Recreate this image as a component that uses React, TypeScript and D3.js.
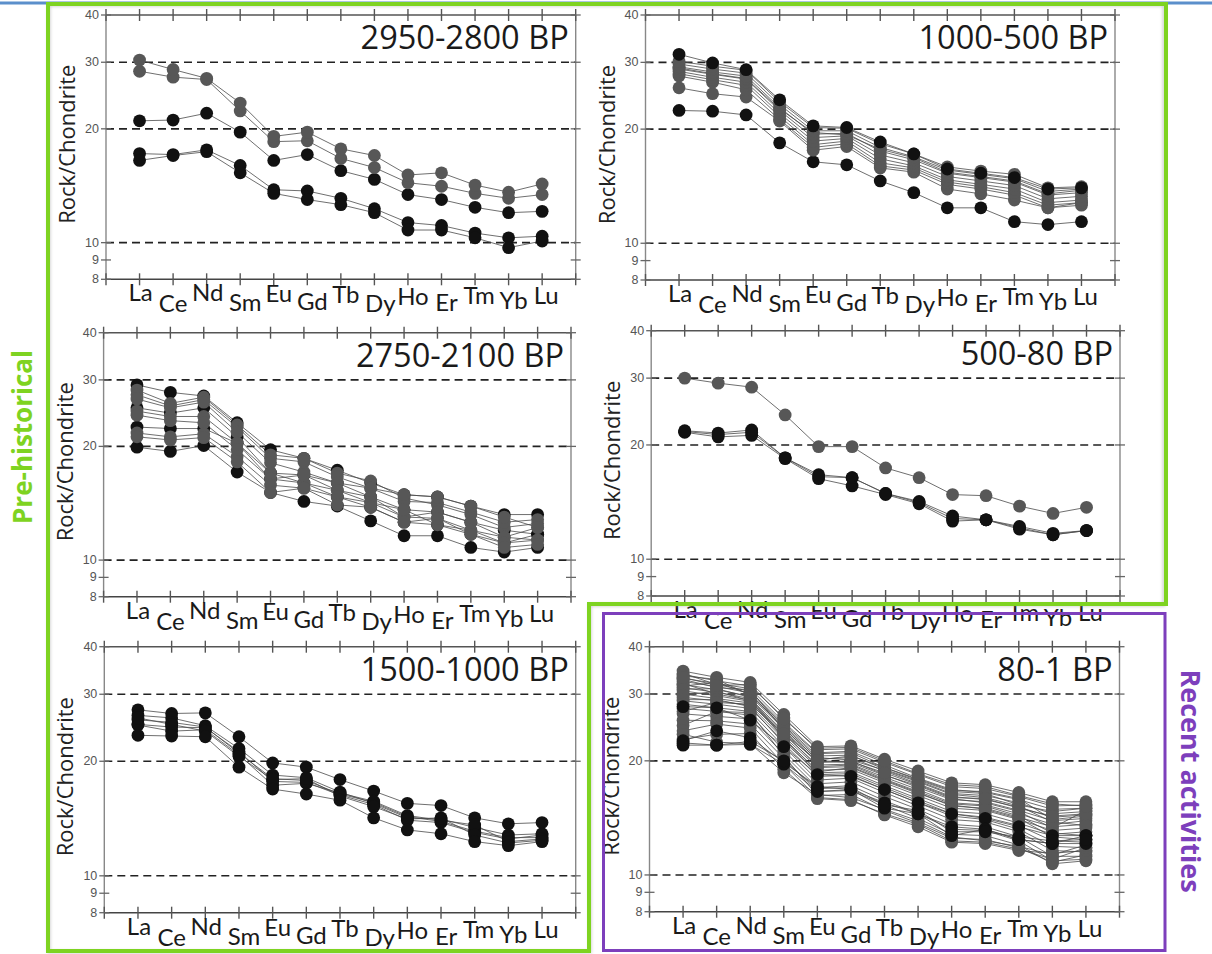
import React from "react";
import * as d3 from "d3";

// ---------- data ----------
const ELEMENTS = ["La", "Ce", "Nd", "Sm", "Eu", "Gd", "Tb", "Dy", "Ho", "Er", "Tm", "Yb", "Lu"];
const Y_TICKS = [40, 30, 20, 10, 9, 8];
const GRID_VALUES = [30, 20, 10];
const TITLES = ["2950-2800 BP", "1000-500 BP", "2750-2100 BP", "500-80 BP", "1500-1000 BP", "80-1 BP"];

type S = { tone: "grey" | "black"; v: number[] };

const P1_SERIES: S[] = [
  { tone: "black", v: [17.2, 17.1, 17.6, 16.0, 13.8, 13.7, 13.1, 12.3, 11.3, 11.1, 10.6, 10.3, 10.4] },
  { tone: "black", v: [16.5, 17.0, 17.4, 15.3, 13.5, 13.0, 12.6, 12.0, 10.8, 10.8, 10.3, 9.7, 10.1] },
  { tone: "black", v: [21.0, 21.1, 22.0, 19.6, 16.5, 17.1, 15.5, 14.7, 13.4, 13.0, 12.4, 12.0, 12.1] },
  { tone: "grey", v: [28.4, 27.4, 27.0, 22.3, 18.5, 18.6, 16.7, 15.8, 14.4, 14.1, 13.5, 13.1, 13.4] },
  { tone: "grey", v: [30.4, 28.7, 27.2, 23.4, 19.1, 19.6, 17.7, 17.0, 15.1, 15.3, 14.2, 13.6, 14.3] },
];

const P2_SERIES: S[] = [
  { tone: "black", v: [22.4, 22.3, 21.8, 18.4, 16.4, 16.1, 14.6, 13.6, 12.4, 12.4, 11.4, 11.2, 11.4] },
  { tone: "grey", v: [25.7, 24.8, 24.3, 21.0, 17.6, 18.0, 15.8, 15.4, 13.9, 13.5, 13.0, 12.4, 12.8] },
  { tone: "grey", v: [27.6, 26.6, 25.4, 21.2, 17.9, 18.3, 16.0, 15.6, 14.3, 13.9, 13.4, 12.4, 12.6] },
  { tone: "grey", v: [28.0, 27.0, 26.1, 21.6, 18.2, 18.6, 16.3, 15.8, 14.5, 14.1, 13.6, 12.6, 12.8] },
  { tone: "grey", v: [28.4, 27.4, 26.6, 22.0, 18.6, 18.9, 16.7, 16.0, 14.7, 14.3, 13.9, 12.8, 13.0] },
  { tone: "grey", v: [28.8, 27.9, 27.1, 22.4, 19.0, 19.2, 17.1, 16.3, 15.0, 14.6, 14.2, 13.1, 13.3] },
  { tone: "grey", v: [29.0, 28.0, 27.2, 22.6, 19.6, 19.3, 17.7, 16.8, 15.4, 15.0, 14.6, 13.5, 13.8] },
  { tone: "grey", v: [29.2, 28.3, 27.6, 22.8, 19.4, 19.5, 17.5, 16.6, 15.3, 14.9, 14.5, 13.4, 13.6] },
  { tone: "grey", v: [29.7, 28.8, 28.1, 23.2, 19.8, 19.8, 17.9, 16.9, 15.6, 15.2, 14.8, 13.7, 13.9] },
  { tone: "grey", v: [30.2, 29.3, 28.6, 23.6, 20.2, 20.1, 18.3, 17.2, 15.9, 15.5, 15.2, 14.0, 14.1] },
  { tone: "black", v: [31.5, 29.9, 28.7, 23.9, 20.4, 20.2, 18.5, 17.2, 15.7, 15.3, 14.9, 13.9, 14.0] },
];

const P3_SERIES: S[] = [
  { tone: "black", v: [29.1, 27.8, 27.2, 23.1, 19.6, 18.6, 17.3, 16.0, 14.9, 14.7, 13.9, 13.2, 13.2] },
  { tone: "black", v: [25.3, 24.5, 25.3, 21.2, 17.0, 16.8, 16.0, 14.7, 13.6, 13.4, 12.6, 12.0, 11.7] },
  { tone: "black", v: [22.5, 22.3, 22.3, 20.4, 16.4, 16.0, 14.7, 13.8, 12.6, 12.4, 11.7, 11.1, 11.7] },
  { tone: "black", v: [19.9, 19.4, 20.1, 17.1, 15.1, 14.3, 13.9, 12.7, 11.6, 11.6, 10.8, 10.5, 10.8] },
  { tone: "grey", v: [28.2, 26.0, 27.0, 22.8, 19.0, 18.6, 17.0, 16.2, 14.6, 14.0, 13.2, 12.2, 12.5] },
  { tone: "grey", v: [27.4, 25.6, 26.6, 22.5, 18.6, 18.2, 16.6, 15.5, 14.3, 14.2, 13.4, 12.6, 12.8] },
  { tone: "grey", v: [26.7, 25.3, 26.2, 21.8, 18.1, 17.1, 16.0, 15.5, 14.9, 14.7, 13.9, 13.0, 12.2] },
  { tone: "grey", v: [24.8, 24.0, 24.0, 20.4, 17.0, 16.0, 15.3, 14.7, 13.0, 12.9, 12.0, 11.5, 12.2] },
  { tone: "grey", v: [24.2, 23.4, 23.1, 19.6, 16.4, 16.8, 15.3, 14.2, 13.0, 13.4, 12.6, 11.5, 11.3] },
  { tone: "grey", v: [21.7, 21.2, 21.6, 18.8, 15.8, 15.5, 14.7, 14.2, 13.6, 12.4, 12.0, 11.1, 11.3] },
  { tone: "grey", v: [21.2, 20.8, 21.1, 18.2, 15.1, 15.5, 14.0, 13.8, 12.6, 12.9, 11.7, 10.8, 11.0] },
];

const P4_SERIES: S[] = [
  { tone: "grey", v: [30.0, 29.1, 28.4, 24.0, 19.8, 19.8, 17.4, 16.4, 14.8, 14.7, 13.8, 13.2, 13.7] },
  { tone: "black", v: [21.7, 21.3, 21.6, 18.5, 16.5, 16.4, 14.9, 14.1, 12.8, 12.7, 12.1, 11.6, 11.9] },
  { tone: "black", v: [21.6, 21.0, 21.2, 18.4, 16.3, 15.6, 14.8, 14.0, 12.6, 12.7, 12.0, 11.6, 11.9] },
  { tone: "black", v: [21.8, 21.5, 21.9, 18.5, 16.7, 16.4, 14.9, 14.2, 13.0, 12.7, 12.2, 11.7, 11.9] },
];

const P5_SERIES: S[] = [
  { tone: "black", v: [27.3, 26.7, 26.8, 23.2, 19.8, 19.3, 17.9, 16.7, 15.5, 15.3, 14.2, 13.7, 13.8] },
  { tone: "black", v: [26.4, 26.0, 24.8, 21.6, 18.4, 18.1, 16.6, 15.5, 14.2, 14.1, 13.4, 12.8, 12.9] },
  { tone: "black", v: [25.7, 25.3, 24.6, 21.0, 18.0, 17.8, 16.4, 15.6, 14.3, 13.9, 13.1, 12.6, 12.6] },
  { tone: "black", v: [25.0, 24.6, 24.5, 21.2, 17.7, 17.6, 16.3, 15.4, 14.0, 13.8, 13.0, 12.5, 12.8] },
  { tone: "black", v: [24.9, 24.0, 24.2, 20.8, 17.3, 17.5, 16.5, 15.7, 14.4, 14.0, 13.6, 12.3, 12.5] },
  { tone: "black", v: [26.0, 25.0, 24.0, 20.6, 17.9, 18.0, 16.2, 15.2, 14.1, 14.2, 12.8, 12.2, 12.4] },
  { tone: "black", v: [23.4, 23.3, 23.2, 19.3, 16.9, 16.4, 15.8, 14.2, 13.2, 12.9, 12.3, 12.0, 12.3] },
];

const P6_SERIES: S[] = [
  { tone: "grey", v: [34.5, 33.2, 32.2, 26.5, 21.8, 21.9, 20.2, 18.8, 17.5, 17.3, 16.5, 15.6, 15.6] },
  { tone: "grey", v: [33.8, 32.5, 31.5, 26.0, 21.4, 21.5, 19.8, 18.4, 17.1, 16.9, 16.1, 15.2, 15.3] },
  { tone: "grey", v: [33.0, 32.0, 31.0, 25.3, 21.0, 21.2, 19.5, 18.0, 16.8, 16.5, 15.8, 14.9, 15.0] },
  { tone: "grey", v: [32.4, 31.4, 30.2, 24.8, 20.6, 20.7, 19.0, 17.7, 16.4, 16.2, 15.5, 14.5, 14.7] },
  { tone: "grey", v: [31.8, 30.8, 29.6, 24.3, 20.2, 20.4, 18.8, 17.4, 16.1, 15.8, 15.1, 14.2, 14.4] },
  { tone: "grey", v: [31.2, 30.3, 29.2, 23.9, 19.8, 20.0, 18.4, 17.0, 15.8, 15.6, 14.8, 13.9, 14.1] },
  { tone: "grey", v: [30.6, 29.7, 28.7, 23.5, 19.5, 19.6, 18.1, 16.8, 15.5, 15.3, 14.5, 13.6, 13.9] },
  { tone: "grey", v: [30.0, 29.2, 28.4, 23.2, 19.2, 19.3, 17.8, 16.5, 15.2, 15.0, 14.2, 13.4, 13.6] },
  { tone: "grey", v: [29.4, 28.8, 28.0, 22.8, 18.9, 19.0, 17.5, 16.2, 15.0, 14.8, 14.0, 13.1, 13.3] },
  { tone: "grey", v: [28.8, 28.2, 27.5, 22.5, 18.6, 18.7, 17.2, 15.9, 14.7, 14.5, 13.7, 12.8, 13.0] },
  { tone: "grey", v: [34.0, 31.8, 30.5, 25.0, 20.9, 21.0, 19.2, 17.9, 16.7, 16.6, 15.9, 14.0, 14.3] },
  { tone: "grey", v: [33.5, 32.8, 29.8, 24.6, 20.4, 20.1, 18.9, 17.6, 16.3, 16.0, 15.2, 13.8, 13.5] },
  { tone: "grey", v: [32.8, 31.2, 30.8, 24.1, 19.9, 19.8, 18.3, 17.2, 15.9, 15.5, 14.7, 13.3, 14.8] },
  { tone: "grey", v: [32.0, 30.0, 28.9, 23.7, 19.3, 19.5, 17.9, 16.6, 15.4, 15.2, 14.3, 12.9, 12.7] },
  { tone: "grey", v: [31.5, 32.2, 30.0, 24.4, 20.1, 20.6, 19.2, 17.8, 16.6, 16.4, 15.3, 14.7, 15.0] },
  { tone: "grey", v: [30.9, 31.0, 29.4, 23.0, 18.7, 19.2, 17.7, 16.4, 15.3, 14.9, 14.1, 12.6, 12.4] },
  { tone: "grey", v: [29.8, 30.5, 28.8, 22.9, 18.4, 18.5, 17.0, 15.7, 14.5, 14.2, 13.5, 12.3, 12.2] },
  { tone: "grey", v: [29.0, 29.0, 27.8, 22.2, 18.2, 18.3, 16.8, 15.5, 14.3, 14.0, 13.2, 11.9, 11.8] },
  { tone: "grey", v: [28.2, 27.6, 27.0, 21.8, 17.8, 18.0, 16.5, 15.2, 14.0, 13.8, 13.0, 11.6, 11.5] },
  { tone: "grey", v: [27.5, 27.0, 26.4, 21.3, 17.4, 17.6, 16.1, 14.9, 13.6, 13.4, 12.6, 11.2, 11.2] },
  { tone: "grey", v: [26.6, 26.2, 25.8, 20.8, 17.0, 17.2, 15.7, 14.5, 13.2, 13.1, 12.3, 10.9, 11.0] },
  { tone: "grey", v: [25.6, 25.5, 25.0, 20.3, 16.6, 16.7, 15.3, 14.1, 12.8, 12.7, 12.0, 10.7, 10.9] },
  { tone: "grey", v: [24.8, 27.0, 26.8, 20.6, 16.2, 16.3, 14.8, 13.7, 12.5, 12.4, 11.8, 10.8, 11.3] },
  { tone: "grey", v: [24.0, 25.0, 24.4, 19.6, 16.0, 15.8, 14.4, 13.4, 12.2, 12.1, 11.6, 11.4, 11.6] },
  { tone: "grey", v: [22.8, 23.5, 23.6, 19.0, 15.9, 15.7, 14.5, 13.6, 12.3, 12.2, 11.7, 11.0, 11.8] },
  { tone: "grey", v: [23.5, 22.4, 22.2, 18.6, 16.3, 16.0, 14.9, 13.9, 12.6, 12.3, 11.9, 11.3, 12.0] },
  { tone: "grey", v: [27.0, 28.5, 28.2, 23.6, 20.0, 19.9, 18.6, 17.3, 16.0, 15.9, 15.0, 14.3, 14.5] },
  { tone: "grey", v: [33.2, 31.6, 31.8, 25.8, 21.6, 21.7, 20.0, 18.5, 17.3, 17.1, 16.2, 15.4, 15.2] },
  { tone: "black", v: [27.8, 27.6, 25.6, 21.8, 18.4, 18.2, 16.8, 15.5, 14.5, 14.1, 13.4, 12.7, 12.7] },
  { tone: "black", v: [22.6, 24.0, 23.0, 19.8, 17.1, 16.8, 15.5, 14.5, 13.4, 13.2, 12.4, 12.1, 12.1] },
  { tone: "black", v: [22.3, 22.0, 22.1, 19.6, 16.6, 16.8, 15.0, 14.5, 12.7, 13.2, 12.4, 12.1, 12.7] },
  { tone: "black", v: [22.0, 22.0, 22.5, 20.0, 16.9, 17.0, 15.3, 14.8, 13.0, 13.0, 12.6, 12.3, 12.4] },
];

const ALL_SERIES = [P1_SERIES, P2_SERIES, P3_SERIES, P4_SERIES, P5_SERIES, P6_SERIES];

// ---------- layout ----------
const LAYOUT = [
  { left: 106, right: 575.7, top: 15, bottom: 279.3 },
  { left: 645.5, right: 1115, top: 15, bottom: 280 },
  { left: 103.6, right: 571, top: 332.7, bottom: 596.7 },
  { left: 651.2, right: 1120, top: 330.7, bottom: 596 },
  { left: 104.3, right: 575.7, top: 646.7, bottom: 912.7 },
  { left: 649.5, right: 1119.5, top: 646.7, bottom: 911.7 },
];
const LABEL_DY = [22, 33, 22, 32, 23, 31, 24, 33, 26, 32, 25, 30, 25];
const LABEL_DX = [1, 0, 1, 5, 5, 5, 5, 6, 5, 5, 4, 5, 4];

const FONT = "'Open Sans', 'DejaVu Sans', sans-serif";
const LABEL_FONT = "Lato, 'Open Sans', sans-serif";
const GREY = "#575757";
const BLACK = "#111111";
const GREEN = "#7ed321";
const PURPLE = "#7d3fbc";

function Panel({ idx }: { idx: number }) {
  const L = LAYOUT[idx];
  const series = ALL_SERIES[idx];
  const x = d3.scaleLinear().domain([-1, 13]).range([L.left, L.right]);
  const y = d3.scaleLog().domain([8, 40]).range([L.bottom, L.top]);
  const line = d3
    .line<number>()
    .x((_, i) => x(i))
    .y((d) => y(d));
  const xTicks = d3.range(-1, 14);
  return (
    <g>
      {/* grid shadows */}
      {GRID_VALUES.map((g) => (
        <line
          key={"sh" + g}
          x1={L.left + 4}
          x2={L.right - 4}
          y1={y(g) + 5}
          y2={y(g) + 5}
          stroke="#cfcfcf"
          strokeWidth={8}
          strokeDasharray="9,4"
          filter="url(#blur)"
          opacity={0.85}
        />
      ))}
      {/* dashed grid */}
      {GRID_VALUES.map((g) => (
        <line
          key={"g" + g}
          x1={L.left}
          x2={L.right}
          y1={y(g)}
          y2={y(g)}
          stroke="#222"
          strokeWidth={1.6}
          strokeDasharray="8,5"
        />
      ))}
      {/* frame */}
      <line x1={L.left} x2={L.left} y1={L.top} y2={L.bottom} stroke="#888" strokeWidth={1.4} />
      <line x1={L.right} x2={L.right} y1={L.top} y2={L.bottom} stroke="#888" strokeWidth={1.4} />
      <line x1={L.left} x2={L.right} y1={L.top} y2={L.top} stroke="#555" strokeWidth={1.6} />
      <line x1={L.left} x2={L.right} y1={L.bottom} y2={L.bottom} stroke="#444" strokeWidth={1.6} />
      {xTicks.map((t) => (
        <g key={"xt" + t}>
          <line x1={x(t)} x2={x(t)} y1={L.top - 6} y2={L.top + 6} stroke="#555" strokeWidth={1.4} />
          <line x1={x(t)} x2={x(t)} y1={L.bottom - 6} y2={L.bottom + 6} stroke="#555" strokeWidth={1.4} />
        </g>
      ))}
      {Y_TICKS.map((t) => (
        <g key={"yt" + t}>
          <line x1={L.left - 5} x2={L.left + 5} y1={y(t)} y2={y(t)} stroke="#666" strokeWidth={1.3} />
          <line x1={L.right - 5} x2={L.right + 5} y1={y(t)} y2={y(t)} stroke="#666" strokeWidth={1.3} />
          <text
            x={L.left - 7}
            y={y(t)}
            textAnchor="end"
            dominantBaseline="central"
            fontFamily="'Liberation Sans', Arial, sans-serif"
            fontSize={12.5}
            fill="#555"
          >
            {t}
          </text>
        </g>
      ))}
      {/* element labels */}
      {ELEMENTS.map((e, i) => (
        <text
          key={e}
          x={x(i) + LABEL_DX[i]}
          y={L.bottom + LABEL_DY[i]}
          textAnchor="middle"
          fontFamily={LABEL_FONT}
          fontSize={24}
          fill="#1a1a1a"
        >
          {e}
        </text>
      ))}
      {/* y title */}
      <text
        transform={`translate(${L.left - 40},${(L.top + L.bottom) / 2 - 3}) rotate(-90)`}
        textAnchor="middle"
        dominantBaseline="central"
        fontFamily={FONT}
        fontSize={22}
        fill="#222"
      >
        Rock/Chondrite
      </text>
      {/* panel title */}
      <text
        x={L.right - 7}
        y={L.top + 34}
        textAnchor="end"
        fontFamily={FONT}
        fontSize={32.5}
        fill="#1a1a1a"
      >
        {TITLES[idx]}
      </text>
      {/* series lines */}
      {series.map((s, k) => (
        <path key={"l" + k} d={line(s.v) || ""} fill="none" stroke="#4a4a4a" strokeWidth={0.8} />
      ))}
      {/* markers */}
      {series.map((s, k) => (
        <g key={"m" + k}>
          {s.v.map((v, i) => (
            <circle key={i} cx={x(i)} cy={y(v)} r={6.4} fill={s.tone === "grey" ? GREY : BLACK} />
          ))}
        </g>
      ))}
    </g>
  );
}

export default function App() {
  return (
    <svg
      width={1212}
      height={954}
      viewBox="0 0 1212 954"
      style={{ position: "absolute", left: 0, top: 0, background: "#fff" }}
    >
      <defs>
        <filter id="blur" x="-5%" y="-200%" width="110%" height="500%">
          <feGaussianBlur stdDeviation="2.2" />
        </filter>
        <filter id="shadow" x="-5%" y="-5%" width="110%" height="110%">
          <feGaussianBlur stdDeviation="1.5" />
        </filter>
      </defs>
      <rect x={0} y={0} width={1212} height={954} fill="#fff" />
      <line x1={0} x2={1212} y1={3} y2={3} stroke="#5b8fcb" strokeWidth={3} />
      {LAYOUT.map((_, i) => (
        <Panel key={i} idx={i} />
      ))}
      {/* frames */}
      <path
        d="M49,5 H1164 V605 H590 V952 H49 Z"
        fill="none"
        stroke="#999"
        strokeWidth={3}
        opacity={0.5}
        filter="url(#shadow)"
      />
      <path d="M48,4 H1166 V604 H589 V951 H48 Z" fill="none" stroke={GREEN} strokeWidth={4} />
      <rect x={603.5} y={613.5} width={561.5} height={337} fill="none" stroke={PURPLE} strokeWidth={3} />
      <text
        transform="translate(22,437) rotate(-90)"
        textAnchor="middle"
        dominantBaseline="central"
        fontFamily={FONT}
        fontWeight={700}
        fontSize={26}
        fill={GREEN}
      >
        Pre-historical
      </text>
      <text
        transform="translate(1191,781) rotate(90)"
        textAnchor="middle"
        dominantBaseline="central"
        fontFamily={FONT}
        fontWeight={700}
        fontSize={27}
        fill={PURPLE}
      >
        Recent activities
      </text>
    </svg>
  );
}
